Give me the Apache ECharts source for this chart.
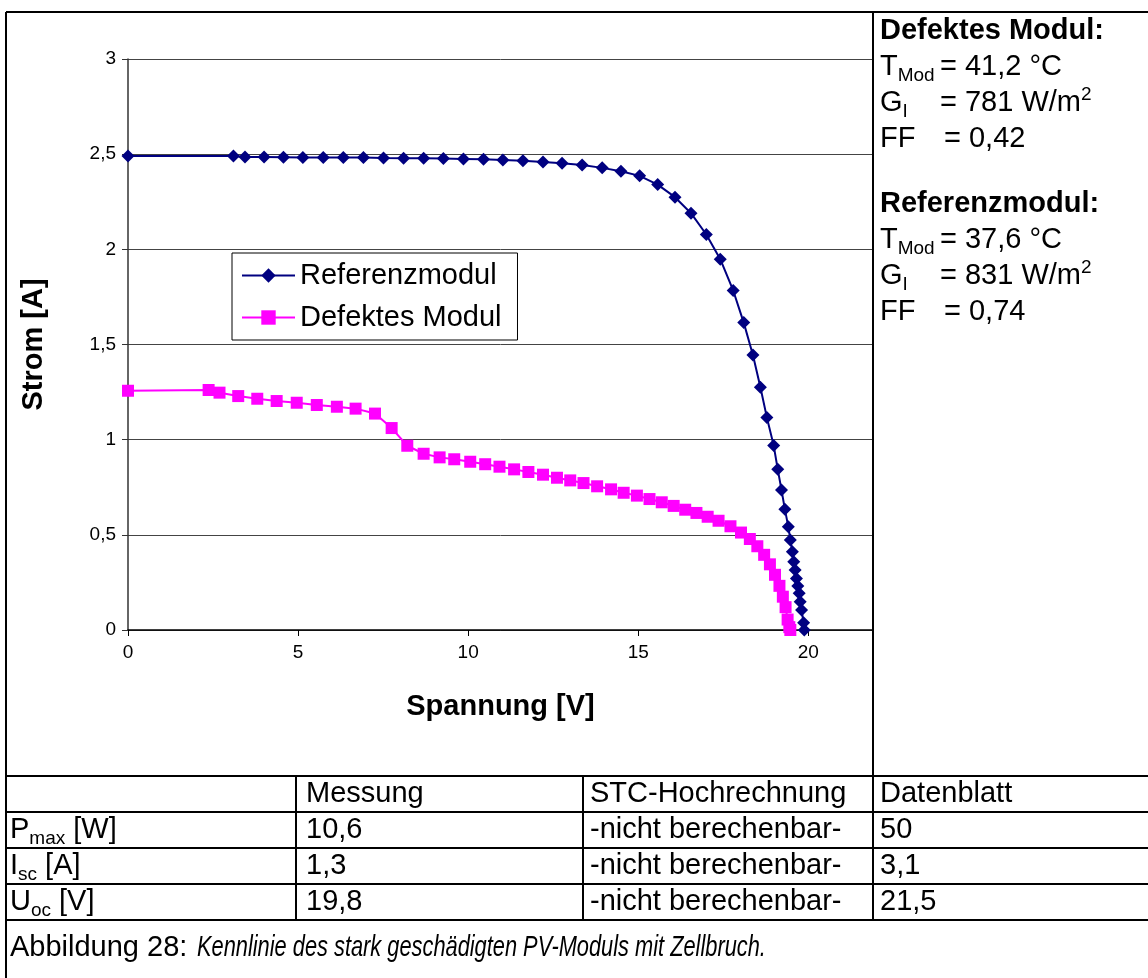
<!DOCTYPE html>
<html>
<head>
<meta charset="utf-8">
<script src="https://cdn.jsdelivr.net/npm/echarts@6/dist/echarts.min.js"></script>
<style>
html,body{margin:0;padding:0;background:#fff;}
#chart{width:1148px;height:978px;}
</style>
</head>
<body>
<div id="chart"></div>
<script>
// ---- Data ----
const refName = 'Referenzmodul';
const defName = 'Defektes Modul';
const refU = [0, 3.10, 3.44, 4.00, 4.57, 5.14, 5.74, 6.33, 6.92, 7.51, 8.10, 8.69, 9.27, 9.86, 10.45, 11.02, 11.61, 12.20, 12.76, 13.35, 13.94, 14.49, 15.04, 15.57, 16.08, 16.55, 17.00, 17.41, 17.79, 18.10, 18.37, 18.59, 18.78, 18.98, 19.10, 19.21, 19.31, 19.41, 19.47, 19.53, 19.57, 19.61, 19.65, 19.69, 19.73, 19.76, 19.80, 19.86, 19.88];
const refI = [2.49, 2.49, 2.485, 2.485, 2.484, 2.483, 2.483, 2.482, 2.482, 2.48, 2.479, 2.478, 2.477, 2.475, 2.473, 2.469, 2.466, 2.459, 2.452, 2.443, 2.428, 2.410, 2.386, 2.340, 2.274, 2.190, 2.078, 1.948, 1.784, 1.615, 1.445, 1.275, 1.117, 0.970, 0.844, 0.736, 0.634, 0.543, 0.473, 0.411, 0.359, 0.315, 0.271, 0.231, 0.193, 0.149, 0.105, 0.038, 0.0];
const defU = [0, 2.37, 2.69, 3.24, 3.80, 4.37, 4.96, 5.55, 6.14, 6.69, 7.26, 7.75, 8.21, 8.69, 9.16, 9.59, 10.06, 10.50, 10.92, 11.35, 11.77, 12.20, 12.61, 13.00, 13.39, 13.79, 14.20, 14.57, 14.96, 15.33, 15.69, 16.04, 16.38, 16.71, 17.04, 17.36, 17.71, 18.02, 18.28, 18.50, 18.70, 18.87, 19.02, 19.15, 19.25, 19.33, 19.39, 19.44, 19.47];
const defI = [1.257, 1.261, 1.247, 1.229, 1.215, 1.203, 1.194, 1.182, 1.173, 1.163, 1.137, 1.061, 0.968, 0.926, 0.907, 0.897, 0.884, 0.871, 0.858, 0.844, 0.830, 0.816, 0.800, 0.786, 0.772, 0.755, 0.739, 0.721, 0.706, 0.688, 0.671, 0.652, 0.632, 0.615, 0.595, 0.574, 0.545, 0.512, 0.478, 0.440, 0.395, 0.345, 0.290, 0.232, 0.175, 0.120, 0.055, 0.015, 0.0];

const xTitle = 'Spannung [V]';
const yTitle = 'Strom [A]';

// Info panel
const defInfo = { title: 'Defektes Modul:', temp: '41,2 °C', irr: '781 W/m', ff: '0,42' };
const refInfo = { title: 'Referenzmodul:', temp: '37,6 °C', irr: '831 W/m', ff: '0,74' };

// Table
const tableHeader = ['', 'Messung', 'STC-Hochrechnung', 'Datenblatt'];
const rowLabels = [['P', 'max', ' [W]'], ['I', 'sc', ' [A]'], ['U', 'oc', ' [V]']];
const messung = ['10,6', '1,3', '19,8'];
const stc = ['-nicht berechenbar-', '-nicht berechenbar-', '-nicht berechenbar-'];
const datenblatt = ['50', '3,1', '21,5'];
const captionPrefix = 'Abbildung 28: ';
const captionText = 'Kennlinie des stark geschädigten PV-Moduls mit Zellbruch.';

// ---- Chart ----
const FONT = '"Liberation Sans", Arial, sans-serif';
const chart = echarts.init(document.getElementById('chart'), null, { renderer: 'canvas' });

const richBase = {
  n: { fontSize: 29, fontFamily: FONT, lineHeight: 36, fill: '#000', color: '#000' },
  s: { fontSize: 19, fontFamily: FONT, lineHeight: 19, verticalAlign: 'bottom', fill: '#000', color: '#000' },
  p: { fontSize: 19, fontFamily: FONT, lineHeight: 19, verticalAlign: 'top', fill: '#000', color: '#000' },
  i: { fontSize: 29, fontFamily: FONT, lineHeight: 36, fontStyle: 'italic', fill: '#000', color: '#000' },
  b: { fontSize: 29, fontFamily: FONT, lineHeight: 36, fontWeight: 'bold', fill: '#000', color: '#000' }
};

function txt(x, y, text, extra) {
  const el = {
    type: 'text', x: x, y: y, z: 100,
    style: { text: text, rich: richBase, font: '29px ' + FONT, fill: '#000',
      verticalAlign: 'middle', textVerticalAlign: 'middle', align: 'left', textAlign: 'left' }
  };
  if (extra) Object.assign(el, extra);
  return el;
}
function hline(x1, x2, y, w) {
  return { type: 'line', z: 100, shape: { x1: x1, y1: y, x2: x2, y2: y }, style: { stroke: '#000', lineWidth: w || 2 } };
}
function vline(x, y1, y2, w) {
  return { type: 'line', z: 100, shape: { x1: x, y1: y1, x2: x, y2: y2 }, style: { stroke: '#000', lineWidth: w || 2 } };
}

const graphics = [];
// borders
graphics.push(hline(6, 1148, 12));
graphics.push(vline(6, 12, 978));
graphics.push(vline(873, 12, 920));
[776, 812, 848, 884, 920].forEach(y => graphics.push(hline(6, 1148, y)));
graphics.push(vline(296, 776, 920));
graphics.push(vline(583, 776, 920));

// info panel
const infoX = 880, eqX = 940, eqXff = 944;
function infoBlock(info, y0) {
  graphics.push(txt(infoX, y0, '{b|' + info.title + '}'));
  graphics.push(txt(infoX, y0 + 36, '{n|T}{s|Mod}'));
  graphics.push(txt(eqX, y0 + 36, '{n|= ' + info.temp + '}'));
  graphics.push(txt(infoX, y0 + 72, '{n|G}{s|I}'));
  graphics.push(txt(eqX, y0 + 72, '{n|= ' + info.irr + '}{p|2}'));
  graphics.push(txt(infoX, y0 + 108, '{n|FF}'));
  graphics.push(txt(eqXff, y0 + 108, '{n|= ' + info.ff + '}'));
}
infoBlock(defInfo, 31);
infoBlock(refInfo, 204);

// table
const colX = [10, 306, 590, 880];
const rowY = [794, 830, 866, 902];
tableHeader.forEach((h, c) => { if (h) graphics.push(txt(colX[c], rowY[0], '{n|' + h + '}')); });
rowLabels.forEach((lab, r) => {
  const y = rowY[r + 1];
  graphics.push(txt(colX[0], y, '{n|' + lab[0] + '}{s|' + lab[1] + '}{n|' + lab[2] + '}'));
  graphics.push(txt(colX[1], y, '{n|' + messung[r] + '}'));
  graphics.push(txt(colX[2], y, '{n|' + stc[r] + '}'));
  graphics.push(txt(colX[3], y, '{n|' + datenblatt[r] + '}'));
});
graphics.push(txt(10, 948, '{n|' + captionPrefix + '}'));
graphics.push(txt(197, 948, '{i|' + captionText + '}', { scaleX: 0.752 }));

const option = {
  animation: false,
  backgroundColor: '#fff',
  textStyle: { fontFamily: FONT },
  grid: { left: 128, top: 59, width: 745, height: 571, containLabel: false, outerBoundsMode: 'none' },
  xAxis: {
    type: 'value', min: 0, max: 21.9, interval: 5,
    axisLine: { show: true, lineStyle: { color: '#000', width: 1.5 } },
    axisTick: { show: true, inside: false, length: 6, lineStyle: { color: '#000' } },
    axisLabel: { fontSize: 19, color: '#000', margin: 13, showMaxLabel: false, fontFamily: FONT,
      formatter: v => String(v).replace('.', ',') },
    splitLine: { show: false },
    name: xTitle, nameLocation: 'middle', nameGap: 62,
    nameTextStyle: { fontSize: 29, fontWeight: 'bold', color: '#000', fontFamily: FONT }
  },
  yAxis: {
    type: 'value', min: 0, max: 3, interval: 0.5,
    axisLine: { show: true, lineStyle: { color: '#333', width: 1.5 } },
    axisTick: { show: true, inside: false, length: 6, lineStyle: { color: '#333' } },
    axisLabel: { fontSize: 19, color: '#000', margin: 12, fontFamily: FONT,
      formatter: v => String(v).replace('.', ',') },
    splitLine: { show: true, lineStyle: { color: '#444', width: 1 } },
    name: yTitle, nameLocation: 'middle', nameGap: 80, nameRotate: 90,
    nameTextStyle: { fontSize: 29, fontWeight: 'bold', color: '#000', fontFamily: FONT }
  },
  legend: {
    show: true, orient: 'vertical', left: 232, top: 253,
    backgroundColor: '#fff', borderColor: '#000', borderWidth: 1,
    padding: [8, 16, 8, 9], itemGap: 13, itemWidth: 53, itemHeight: 18,
    textStyle: { fontSize: 29, color: '#000', fontFamily: FONT },
    data: [refName, defName]
  },
  series: [
    {
      name: refName, type: 'line', data: refU.map((u, k) => [u, refI[k]]),
      symbol: 'diamond', symbolSize: 13, showAllSymbol: true,
      lineStyle: { color: '#000080', width: 2 }, itemStyle: { color: '#000080' }
    },
    {
      name: defName, type: 'line', data: defU.map((u, k) => [u, defI[k]]),
      symbol: 'rect', symbolSize: 12, showAllSymbol: true,
      lineStyle: { color: '#FF00FF', width: 2 }, itemStyle: { color: '#FF00FF' }
    }
  ],
  graphic: graphics
};
chart.setOption(option);
</script>
</body>
</html>
